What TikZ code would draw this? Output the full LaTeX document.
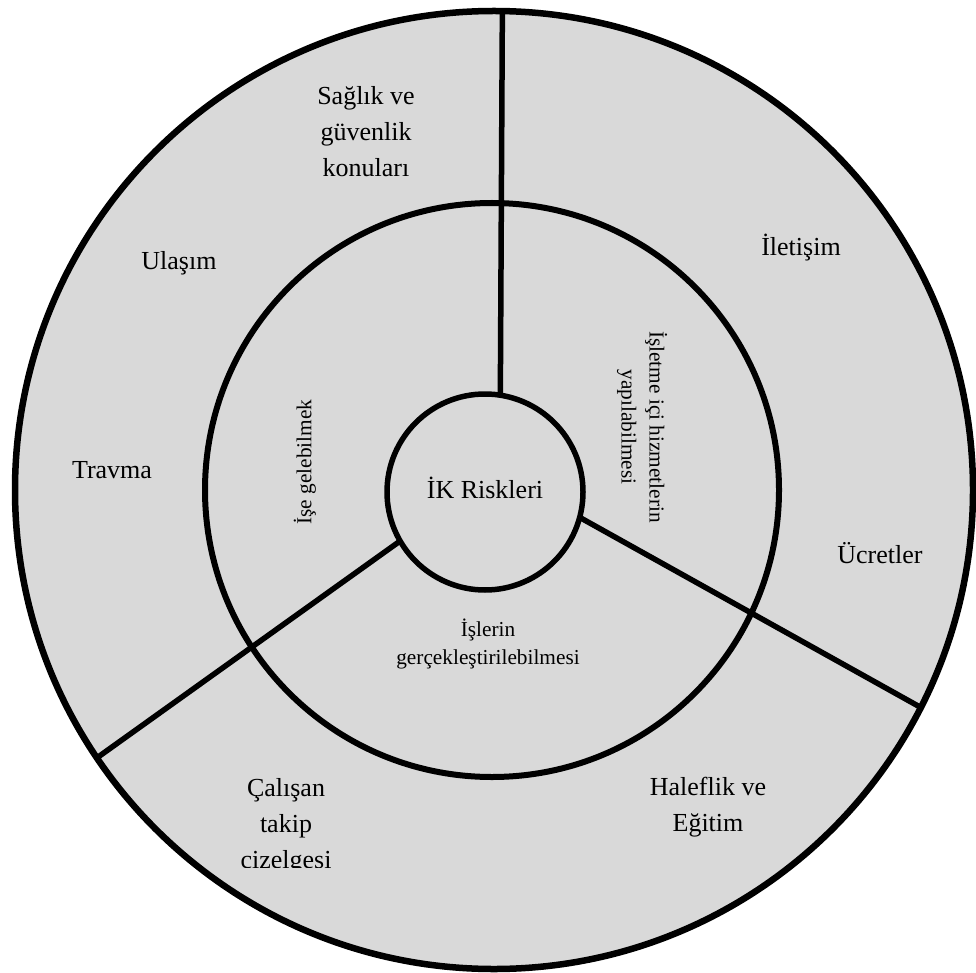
\documentclass[tikz,border=0pt]{standalone}
\usepackage{fontspec}
\setmainfont{Liberation Serif}
\definecolor{ringfill}{RGB}{217,217,217}
\begin{document}
\begin{tikzpicture}[x=1pt,y=-1pt,
  ring/.style={circle,draw=black,fill=ringfill,inner sep=0pt,outer sep=0pt},
  spoke/.style={draw=black,line width=5.5pt},
  outerlbl/.style={align=center,inner sep=0pt,font=\fontsize{26}{36}\selectfont},
  innerlbl/.style={align=center,inner sep=0pt,font=\fontsize{21.3}{28}\selectfont}]
\useasboundingbox (0,0) rectangle (976,973);
% three concentric rings
\node[ring,line width=6.5pt,minimum size=958pt] (outer) at (494,490) {};
\node[ring,line width=6pt,minimum size=574pt] (middle) at (492,490) {};
\node[ring,line width=5.5pt,minimum size=196pt] (core) at (485,492) {};
% spokes dividing the rings into three sectors
\draw[spoke] (core.81.8) -- (outer.89.4);
\draw[spoke] (core.-15.4) -- (outer.-27.6);
\draw[spoke] (core.210.4) -- (outer.214.3);
\node[font=\fontsize{26}{30}\selectfont,inner sep=0pt] (title) at (485,488) {İK Riskleri};
% inner ring labels
\node[innerlbl,rotate=90] (come) at (305,462) {İşe gelebilmek};
\node[innerlbl,rotate=-90] (serv) at (642,427) {İşletme içi hizmetlerin\\yapılabilmesi};
\node[innerlbl] (work) at (488,644) {İşlerin\\gerçekleştirilebilmesi};
% outer ring labels
\node[outerlbl] (health) at (366,132) {Sağlık ve\\güvenlik\\konuları};
\node[outerlbl] (trans) at (179,263) {Ulaşım};
\node[outerlbl] (trauma) at (112,470) {Travma};
\node[outerlbl] (comm) at (801,248) {İletişim};
\node[outerlbl] (wage) at (880,553) {Ücretler};
\node[outerlbl] (succ) at (708,807) {Haleflik ve\\Eğitim};
\begin{scope}
  \clip (150,740) rectangle (430,867);
  \node[outerlbl] (track) at (286,826) {Çalışan\\takip\\cizelgesi};
\end{scope}
\end{tikzpicture}
\end{document}
